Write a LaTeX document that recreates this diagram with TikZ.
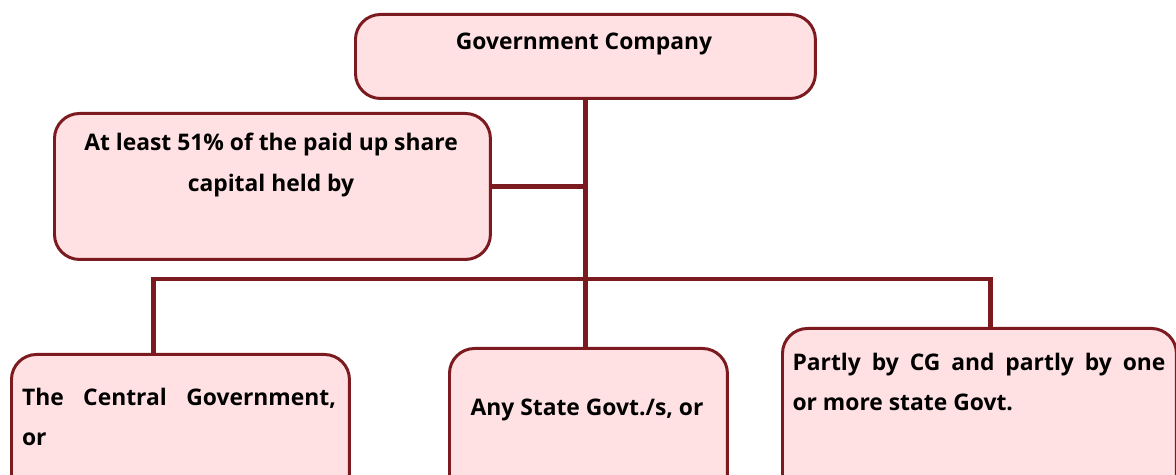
\documentclass[tikz,border=0pt]{standalone}
\usepackage{fontspec}
\setmainfont{Open Sans}
\usetikzlibrary{positioning}
\definecolor{boxline}{HTML}{7B1A1F}
\definecolor{boxfill}{HTML}{FFE1E4}
\begin{document}
\begin{tikzpicture}[x=0.02cm, y=-0.02cm,
        box/.style={draw=boxline, fill=boxfill, line width=1.7pt, rounded corners=0.5cm, anchor=north west, inner sep=0pt},
        txt/.style={font=\bfseries\fontsize{13}{22.8}\selectfont, inner sep=0pt},
        conn/.style={draw=boxline, line width=2.6pt}]
        \useasboundingbox (0,0) rectangle (1176,475);
        % boxes
        \node[box, minimum width=9.2cm, minimum height=1.68cm] (gc) at (354,13) {};
        \node[box, minimum width=8.72cm, minimum height=2.92cm] (held) at (53,112) {};
        \node[box, minimum width=6.76cm, minimum height=3.2cm] (cg) at (10,353) {};
        \node[box, minimum width=5.56cm, minimum height=3.2cm] (sg) at (448,347) {};
        \node[box, minimum width=7.88cm, minimum height=3.6cm] (mix) at (781,327) {};
        % texts
        \node[txt] (gctext) at (584,44) {Government Company};
        \node[txt, align=center] (heldtext) at (271,165) {At least 51\% of the paid up share\\capital held by};
        \node[txt, text width=6.28cm, align=justify] (cgtext) at (179,417) {The Central Government,\linebreak or};
        \node[txt] (sgtext) at (587,410) {Any State Govt./s, or};
        \node[txt, text width=7.46cm, align=justify] (mixtext) at (979,382) {Partly by CG and partly by one\linebreak or more state Govt.};
        % connectors
        \coordinate (bar) at (584,279);
        \draw[conn] (gc.south) -- (gc.south |- sg.north);
        \draw[conn] (held.east) -- (held.east -| gc.south);
        \draw[conn] ([xshift=-0.54cm]cg.north) |- (bar) -| ([xshift=0.22cm]mix.north);
\end{tikzpicture}
\end{document}
